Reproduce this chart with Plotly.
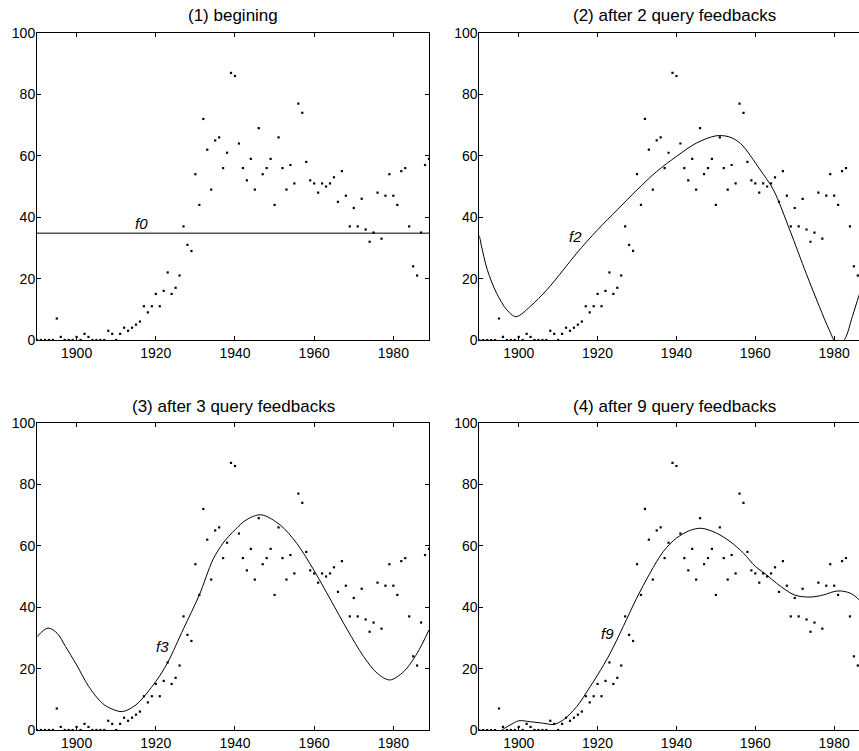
import plotly.graph_objects as go

# ---------------- data ----------------
years = list(range(1890, 1990))
values = [
    0, 0, 0, 0, 0, 7, 1, 0, 0, 0,
    1, 0, 2, 1, 0, 0, 0, 0, 3, 2,
    0, 2, 4, 3, 4, 5, 6, 11, 9, 11,
    15, 11, 16, 22, 15, 17, 21, 37, 31, 29,
    54, 44, 72, 62, 49, 65, 66, 56, 61, 87,
    86, 64, 56, 52, 59, 49, 69, 54, 56, 59,
    44, 66, 56, 49, 57, 51, 77, 74, 58, 52,
    51, 48, 51, 50, 51, 53, 45, 55, 47, 37,
    43, 37, 46, 36, 32, 35, 48, 33, 47, 54,
    47, 44, 55, 56, 37, 24, 21, 35, 57, 59,
]

f0_x = [1890, 1989]
f0_y = [34.8, 34.8]

f2_x = [1890, 1892, 1894.4, 1897, 1899.3, 1902.9, 1907.1, 1911.3, 1914.7, 1920, 1925,
        1930, 1935, 1940, 1945, 1950, 1953.3, 1956.25, 1961.25, 1964.6, 1968.75,
        1972.9, 1976.25, 1978.75, 1981, 1982.8, 1984.6, 1986.3, 1988]
f2_y = [34, 23, 15.2, 9.8, 7.6, 10.9, 16.3, 22.8, 28.3, 35.9, 42.4,
        48.9, 54.9, 59.8, 64.1, 66.5, 66.2, 64, 55.4, 48.9, 35.8,
        21.7, 10.9, 3.3, -2, 0.5, 7.6, 14.5, 21]

f3_x = [1890, 1892.8, 1895.1, 1897.2, 1900, 1903.1, 1906.5, 1909, 1911.6, 1915, 1920,
        1923, 1927, 1931, 1934.4, 1937, 1940, 1942.9, 1946.6, 1951.4, 1955.6, 1959.9,
        1964.2, 1968.4, 1972.5, 1975.9, 1979.1, 1982.6, 1986, 1989]
f3_y = [30.4, 33.2, 31.5, 27.2, 21.2, 14.1, 8.7, 6.8, 6.0, 8.2, 15.8,
        22, 33, 44, 55.4, 60.9, 65.2, 68.5, 70.1, 66.8, 60.8, 52.1,
        42.3, 32.6, 23.9, 18.5, 16.3, 19, 25, 32.6]

f9_x = [1893, 1895.7, 1897.8, 1900, 1902.9, 1906.3, 1908.8, 1911.3, 1914.7, 1918.1,
        1920, 1923.2, 1926.5, 1929.9, 1933.3, 1936.7, 1940, 1943.4, 1946.4, 1950.2,
        1953.6, 1957, 1960, 1962.9, 1965.4, 1969.9, 1973.9, 1977.3, 1980, 1981.5,
        1984, 1986.3, 1988]
f9_y = [-3, 0, 1.6, 3, 2.7, 2.2, 1.8, 3.3, 7.6, 14.1,
        17.9, 25, 33.7, 42.9, 51.1, 58.2, 62.5, 65, 65.7, 64.1,
        61.4, 57.6, 53.3, 50.5, 47.8, 44, 43.3, 44, 45.1, 45.3,
        44.6, 42.4, 38]

titles = ["(1) begining", "(2) after 2 query feedbacks",
          "(3) after 3 query feedbacks", "(4) after 9 query feedbacks"]
curve_names = ["f0", "f2", "f3", "f9"]
curve_label_pos = [(1916.4, 38.0), (1914.3, 33.7), (1921.7, 27.2), (1922.5, 31.3)]
x_ticks = [1900, 1920, 1940, 1960, 1980]
y_ticks = [0, 20, 40, 60, 80, 100]

curves = [(f0_x, f0_y), (f2_x, f2_y), (f3_x, f3_y), (f9_x, f9_y)]

# ---------------- layout geometry ----------------
# body margin is removed by post_script, so figure coordinates = window coordinates
W, H = 859, 751
ml, mr, mt = 37, 0, 33
mb = H - 730
pw, ph = W - ml - mr, H - mt - mb


def px_x(wx):
    return (wx - ml) / pw


def px_y(wy):
    return (H - mb - wy) / ph


left_dom = [0, px_x(429)]
right_dom = [px_x(479.3), 1]
top_dom = [px_y(340), 1]
bot_dom = [0, px_y(423)]

doms = [(left_dom, top_dom), (right_dom, top_dom), (left_dom, bot_dom), (right_dom, bot_dom)]
xranges = [[1890, 1989], [1890, 1986.3], [1890, 1989], [1890, 1986.3]]

FONT = "Liberation Sans, Arial, Helvetica, sans-serif"
fig = go.Figure()
annotations = []

for i in range(4):
    xa = "x" if i == 0 else f"x{i+1}"
    ya = "y" if i == 0 else f"y{i+1}"
    fig.add_trace(go.Scatter(x=years, y=values, mode="markers",
                             marker=dict(size=2.2, color="black", symbol="square"),
                             xaxis=xa, yaxis=ya, showlegend=False, hoverinfo="x+y"))
    cx, cy = curves[i]
    fig.add_trace(go.Scatter(x=cx, y=cy, mode="lines",
                             line=dict(color="black", width=1, shape="spline", smoothing=0.9),
                             xaxis=xa, yaxis=ya, showlegend=False))
    right = i in (1, 3)
    xkey = "xaxis" if i == 0 else f"xaxis{i+1}"
    ykey = "yaxis" if i == 0 else f"yaxis{i+1}"
    fig.layout[xkey] = dict(domain=doms[i][0], range=xranges[i], anchor=ya,
                            tickvals=x_ticks, ticks="inside", ticklen=4, tickcolor="black",
                            showline=True, linecolor="black", linewidth=1, mirror="ticks",
                            showgrid=False, zeroline=False,
                            tickfont=dict(size=14, color="black", family=FONT))
    fig.layout[ykey] = dict(domain=doms[i][1], range=[0, 100], anchor=xa,
                            tickvals=y_ticks, ticks="inside", ticklen=4, tickcolor="black",
                            showline=True, linecolor="black", linewidth=1,
                            mirror=False if right else "ticks",
                            showgrid=False, zeroline=False, ticklabelstandoff=-2,
                            tickfont=dict(size=14, color="black", family=FONT))
    cx_paper = px_x(674) if right else px_x(233)
    ty = 16 if i < 2 else 406
    annotations.append(dict(text=titles[i], xref="paper", yref="paper",
                            x=cx_paper, y=px_y(ty), xanchor="center", yanchor="middle",
                            showarrow=False, font=dict(size=17, color="black", family=FONT)))
    lx, ly = curve_label_pos[i]
    annotations.append(dict(text=f"<i>{curve_names[i]}</i>", xref=xa, yref=ya,
                            x=lx, y=ly, xanchor="center", yanchor="middle", showarrow=False,
                            font=dict(size=15, color="black", family=FONT)))

fig.update_layout(width=W, height=H, margin=dict(l=ml, r=mr, t=mt, b=mb, autoexpand=False),
                  paper_bgcolor="white", plot_bgcolor="white", hovermode=False,
                  annotations=annotations, font=dict(family=FONT, color="black"))

fig.write_html("out.html", config={"displayModeBar": False, "staticPlot": True},
               post_script="document.body.style.margin='0px';document.body.style.overflow='hidden';")
